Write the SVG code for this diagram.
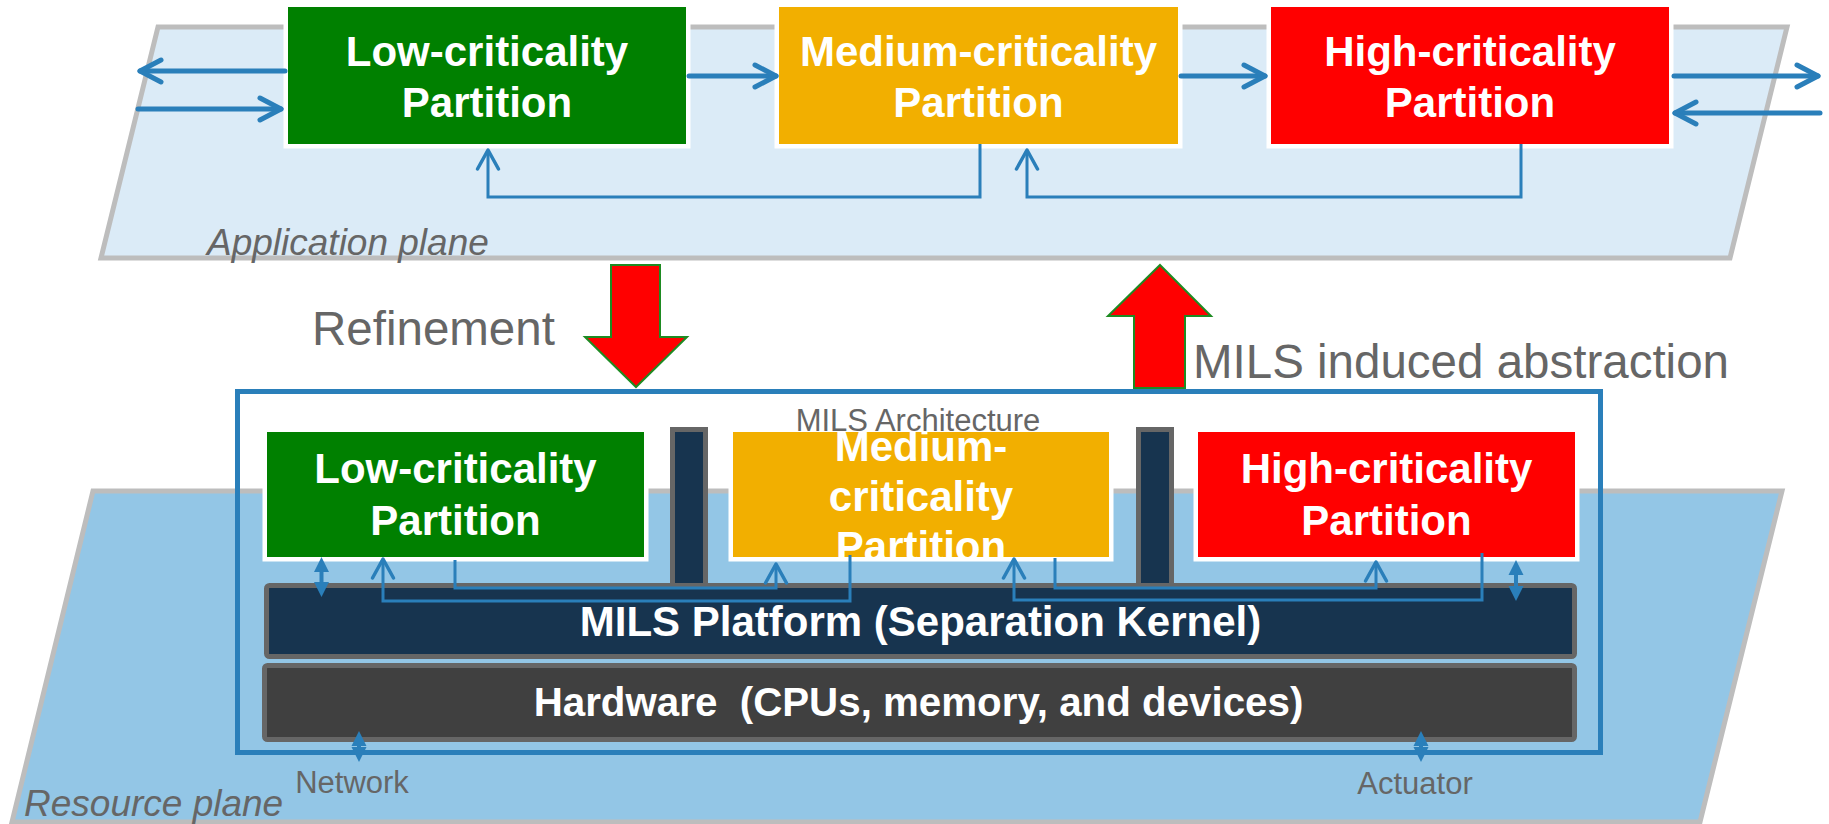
<svg xmlns="http://www.w3.org/2000/svg" width="1829" height="824" viewBox="0 0 1829 824">
  <style>
    .plane { stroke: #BDBDBD; stroke-width: 5; stroke-linejoin: miter; }
    .card { stroke: #FFFFFF; stroke-width: 9; paint-order: stroke; }
    .title { font-family: "Liberation Sans", Arial, sans-serif; font-weight: bold; font-size: 42px; fill: #FFFFFF; text-anchor: middle; }
    .hw { font-size: 40.3px; white-space: pre; }
    .note { font-family: "Liberation Sans", Arial, sans-serif; fill: #666666; }
    .italic { font-style: italic; font-size: 37px; }
    .small { font-size: 31px; }
    .big { font-size: 47.5px; }
    .flow { fill: none; stroke: #2A7FBA; stroke-width: 5; stroke-linecap: round; }
    .link { fill: none; stroke: #2A7FBA; stroke-width: 3; }
    .dual { fill: #2A7FBA; stroke: none; }
    .bigarrow { fill: #FF0000; stroke: #1E8B22; stroke-width: 2; }
    .bar { stroke: #666666; stroke-width: 5; }
  </style>
  <defs>
    <marker id="chev-thick" markerUnits="userSpaceOnUse" viewBox="-26 -16 30 32" refX="0" refY="0" markerWidth="30" markerHeight="32" orient="auto" overflow="visible">
      <path d="M-21,-11 L0,0 L-21,11" fill="none" stroke="#2A7FBA" stroke-width="5" stroke-linecap="round" stroke-linejoin="round"/>
    </marker>
    <marker id="chev-thin" markerUnits="userSpaceOnUse" viewBox="-24 -14 28 28" refX="0" refY="0" markerWidth="28" markerHeight="28" orient="auto" overflow="visible">
      <path d="M-19,-10.5 L0,0 L-19,10.5" fill="none" stroke="#2A7FBA" stroke-width="3.5" stroke-linecap="round" stroke-linejoin="round"/>
    </marker>
  </defs>

  <rect width="1829" height="824" fill="#FFFFFF"/>

  <!-- lower (resource) plane -->
  <g id="resource-plane">
    <polygon class="plane" points="93,491 1782,491 1700,822 12,822" fill="#93C6E6"/>
    <text class="note italic" x="24" y="816">Resource plane</text>
  </g>

  <!-- upper (application) plane -->
  <g id="application-plane">
    <polygon class="plane" points="158,27 1787,27 1730,258 101,258" fill="#DBEBF7"/>
    <text class="note italic" x="207" y="255">Application plane</text>
  </g>

  <!-- application partitions -->
  <g id="app-low">
    <rect class="card" x="288" y="7" width="398" height="137" fill="#008000"/>
    <text class="title" x="487" y="66">Low-criticality</text>
    <text class="title" x="487" y="117">Partition</text>
  </g>
  <g id="app-medium">
    <rect class="card" x="779" y="7" width="399" height="137" fill="#F2AF00"/>
    <text class="title" x="978.5" y="66">Medium-criticality</text>
    <text class="title" x="978.5" y="117">Partition</text>
  </g>
  <g id="app-high">
    <rect class="card" x="1271" y="7" width="398" height="137" fill="#FF0000"/>
    <text class="title" x="1470" y="66">High-criticality</text>
    <text class="title" x="1470" y="117">Partition</text>
  </g>

  <!-- refinement / abstraction arrows between the planes -->
  <g id="refinement">
    <polygon class="bigarrow" points="611,265 660,265 660,337 687,337 636,387 585,337 611,337"/>
    <text class="note big" x="312" y="345">Refinement</text>
  </g>
  <g id="abstraction">
    <polygon class="bigarrow" points="1160,265 1211,316 1185,316 1185,388 1134,388 1134,316 1108,316"/>
    <text class="note big" x="1193" y="378">MILS induced abstraction</text>
  </g>

  <!-- MILS architecture frame -->
  <g id="mils-architecture">
    <rect x="237.5" y="391.5" width="1363" height="361" fill="none" stroke="#2A7FBA" stroke-width="5"/>
  </g>

  <!-- separation walls -->
  <g id="separator-1">
    <rect class="bar" x="672.5" y="429.5" width="33" height="158" fill="#17344F"/>
  </g>
  <g id="separator-2">
    <rect class="bar" x="1138.5" y="429.5" width="33" height="158" fill="#17344F"/>
  </g>

  <!-- architecture partitions -->
  <g id="arch-low">
    <rect class="card" x="267" y="432" width="377" height="125" fill="#008000"/>
    <text class="title" x="455.5" y="483">Low-criticality</text>
    <text class="title" x="455.5" y="535">Partition</text>
  </g>
  <g id="arch-medium">
    <rect class="card" x="733" y="432" width="376" height="125" fill="#F2AF00"/>
    <text class="title" x="921" y="461">Medium-</text>
    <text class="title" x="921" y="511">criticality</text>
    <text class="title" x="921" y="561">Partition</text>
  </g>
  <g id="arch-high">
    <rect class="card" x="1198" y="432" width="377" height="125" fill="#FF0000"/>
    <text class="title" x="1386.5" y="483">High-criticality</text>
    <text class="title" x="1386.5" y="535">Partition</text>
  </g>

  <!-- frame caption, drawn above the partitions -->
  <g id="mils-architecture-label">
    <text class="note small" x="918" y="431" text-anchor="middle">MILS Architecture</text>
  </g>

  <!-- platform layers -->
  <g id="platform">
    <rect class="bar" x="266.5" y="585.5" width="1308" height="71" rx="3" fill="#17344F"/>
    <text class="title" x="920.5" y="636">MILS Platform (Separation Kernel)</text>
  </g>
  <g id="hardware">
    <rect class="bar" x="264.5" y="665.5" width="1310" height="74" rx="3" fill="#404040"/>
    <text class="title hw" x="918.5" y="716">Hardware  (CPUs, memory, and devices)</text>
  </g>

  <g id="io-labels">
    <text class="note small" x="352" y="793" text-anchor="middle">Network</text>
    <text class="note small" x="1415" y="794" text-anchor="middle">Actuator</text>
  </g>

  <!-- connectors -->
  <g id="connectors">
    <!-- application plane flows -->
    <line class="flow" x1="285" y1="71" x2="140" y2="71" marker-end="url(#chev-thick)"/>
    <line class="flow" x1="138" y1="109" x2="281" y2="109" marker-end="url(#chev-thick)"/>
    <line class="flow" x1="689" y1="76" x2="776" y2="76" marker-end="url(#chev-thick)"/>
    <line class="flow" x1="1181" y1="76" x2="1265" y2="76" marker-end="url(#chev-thick)"/>
    <line class="flow" x1="1674" y1="76" x2="1818" y2="76" marker-end="url(#chev-thick)"/>
    <line class="flow" x1="1820" y1="113" x2="1675" y2="113" marker-end="url(#chev-thick)"/>
    <path class="link" d="M980,144 V197 H488 V150" marker-end="url(#chev-thin)"/>
    <path class="link" d="M1521,144 V197 H1027 V150" marker-end="url(#chev-thin)"/>

    <!-- partition-to-partition channels through the kernel -->
    <path class="link" d="M455,560 V588 H776 V564" marker-end="url(#chev-thin)"/>
    <path class="link" d="M850,555 V601 H383 V559" marker-end="url(#chev-thin)"/>
    <path class="link" d="M1055,558 V588 H1376 V562" marker-end="url(#chev-thin)"/>
    <path class="link" d="M1482,553 V600 H1014 V559" marker-end="url(#chev-thin)"/>

    <!-- two-way device links -->
    <path class="dual" d="M321.5,557 L329,572 L323.5,572 L323.5,582 L329,582 L321.5,597 L314,582 L319.5,582 L319.5,572 L314,572 Z"/>
    <path class="dual" d="M1516,560 L1523.5,575 L1518,575 L1518,586 L1523.5,586 L1516,601 L1508.5,586 L1514,586 L1514,575 L1508.5,575 Z"/>
    <path class="dual" d="M359,731 L366.5,746 L361,746 L361,747 L366.5,747 L359,762 L351.5,747 L357,747 L357,746 L351.5,746 Z"/>
    <path class="dual" d="M1421,731 L1428.5,746 L1423,746 L1423,747 L1428.5,747 L1421,762 L1413.5,747 L1419,747 L1419,746 L1413.5,746 Z"/>
  </g>
</svg>
